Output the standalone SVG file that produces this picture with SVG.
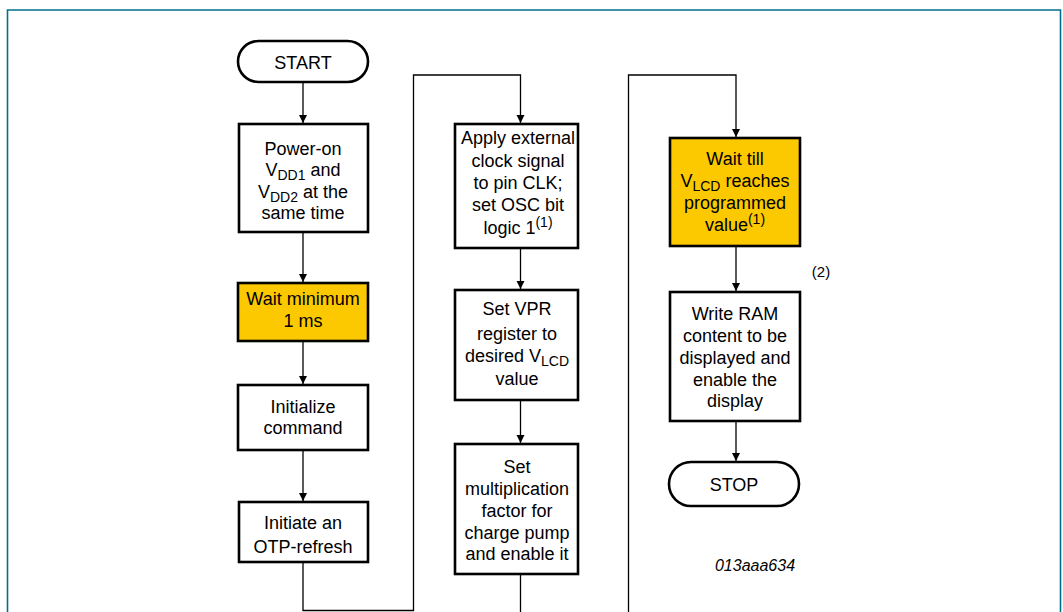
<svg xmlns="http://www.w3.org/2000/svg" width="1063" height="612" viewBox="0 0 1063 612">
<defs>
<marker id="ah" markerWidth="10" markerHeight="10" refX="9" refY="5" orient="auto" markerUnits="userSpaceOnUse">
<path d="M1,1 L9,5 L1,9 z" fill="#000"/>
</marker>
<style>
.box{fill:#fff;stroke:#000;stroke-width:2.6}
.hl{fill:#fcc800;stroke:#000;stroke-width:2.6}
.t{font-family:"Liberation Sans",Arial,sans-serif;font-size:18px;fill:#000;text-anchor:middle}
.s{font-size:14px}
.c{fill:none;stroke:#000;stroke-width:1.3}
</style>
</defs>
<rect width="1063" height="612" fill="#fff"/>
<path d="M7.5,620 V10 H1060.5 V620" fill="none" stroke="#00708a" stroke-width="1.6"/>

<g id="connectors">
<path class="c" d="M303,82 V123" marker-end="url(#ah)"/>
<path class="c" d="M303,232 V282" marker-end="url(#ah)"/>
<path class="c" d="M303,341 V384" marker-end="url(#ah)"/>
<path class="c" d="M303,450 V501" marker-end="url(#ah)"/>
<path class="c" d="M303,562 V610.5 H413.5 V75 H520.5 V123" marker-end="url(#ah)"/>
<path class="c" d="M520.5,248 V289" marker-end="url(#ah)"/>
<path class="c" d="M520.5,400 V443" marker-end="url(#ah)"/>
<path class="c" d="M520.5,574 V630 H628.5 V75 H736 V137" marker-end="url(#ah)"/>
<path class="c" d="M736,246 V291" marker-end="url(#ah)"/>
<path class="c" d="M736,421 V461" marker-end="url(#ah)"/>
</g>

<g id="start">
<rect class="box" x="238" y="41" width="130" height="41" rx="20.5"/>
<text class="t" x="303" y="68.5">START</text>
</g>

<g id="poweron">
<rect class="box" x="239" y="124" width="129" height="108"/>
<text class="t" x="303" y="154.5">Power-on</text>
<text class="t" x="303" y="176">V<tspan class="s" dy="4">DD1</tspan><tspan dy="-4"> and</tspan></text>
<text class="t" x="303" y="197.5">V<tspan class="s" dy="4">DD2</tspan><tspan dy="-4"> at the</tspan></text>
<text class="t" x="303" y="218.5">same time</text>
</g>

<g id="wait1ms">
<rect class="hl" x="238" y="283" width="130" height="58"/>
<text class="t" x="303" y="304.5">Wait minimum</text>
<text class="t" x="303" y="326.5">1 ms</text>
</g>

<g id="init">
<rect class="box" x="238" y="385" width="130" height="65"/>
<text class="t" x="303" y="412.5">Initialize</text>
<text class="t" x="303" y="433.5">command</text>
</g>

<g id="otp">
<rect class="box" x="239" y="502" width="129" height="60"/>
<text class="t" x="303" y="528.5">Initiate an</text>
<text class="t" x="303" y="552.5">OTP-refresh</text>
</g>

<g id="clk">
<rect class="box" x="455" y="124" width="123" height="124"/>
<text class="t" x="518" y="143.5">Apply external</text>
<text class="t" x="518" y="166.5">clock signal</text>
<text class="t" x="518" y="188.5">to pin CLK;</text>
<text class="t" x="518" y="210.5">set OSC bit</text>
<text class="t" x="518" y="233.5">logic 1<tspan class="s" dy="-7">(1)</tspan></text>
</g>

<g id="vpr">
<rect class="box" x="455" y="290" width="123" height="110"/>
<text class="t" x="517" y="314.5">Set VPR</text>
<text class="t" x="517" y="339.5">register to</text>
<text class="t" x="517" y="362">desired V<tspan class="s" dy="4">LCD</tspan></text>
<text class="t" x="517" y="384.5">value</text>
</g>

<g id="mult">
<rect class="box" x="455" y="444" width="123" height="130"/>
<text class="t" x="517" y="472.5">Set</text>
<text class="t" x="517" y="494.5">multiplication</text>
<text class="t" x="517" y="516.5">factor for</text>
<text class="t" x="517" y="538.5">charge pump</text>
<text class="t" x="517" y="559.5">and enable it</text>
</g>

<g id="waitlcd">
<rect class="hl" x="670" y="138" width="130" height="108"/>
<text class="t" x="735" y="164.5">Wait till</text>
<text class="t" x="735" y="187">V<tspan class="s" dy="4">LCD</tspan><tspan dy="-4"> reaches</tspan></text>
<text class="t" x="735" y="208.5">programmed</text>
<text class="t" x="735" y="230.5">value<tspan class="s" dy="-7">(1)</tspan></text>
</g>

<text class="t" x="821" y="277" style="font-size:15px">(2)</text>

<g id="writeram">
<rect class="box" x="670" y="292" width="130" height="129"/>
<text class="t" x="735" y="319.5">Write RAM</text>
<text class="t" x="735" y="341.5">content to be</text>
<text class="t" x="735" y="363.5">displayed and</text>
<text class="t" x="735" y="385.5">enable the</text>
<text class="t" x="735" y="406.5">display</text>
</g>

<g id="stop">
<rect class="box" x="669" y="462" width="130" height="44" rx="22"/>
<text class="t" x="734" y="490.5">STOP</text>
</g>

<text class="t" x="755" y="570.5" style="font-size:16px;font-style:italic">013aaa634</text>
</svg>
